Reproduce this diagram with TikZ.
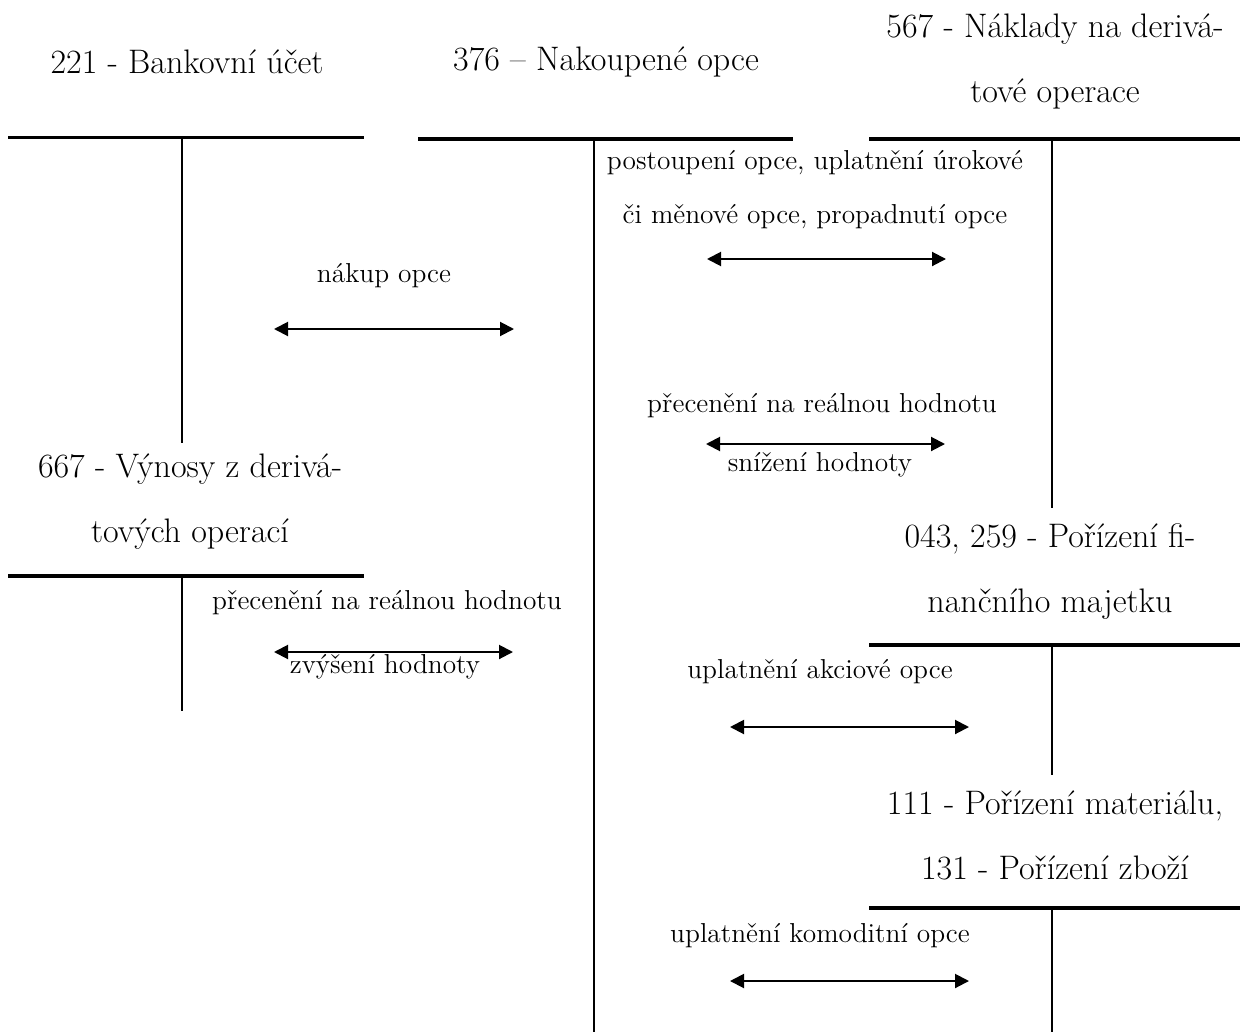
\documentclass[tikz,border=0pt]{standalone}
\usepackage{tikz}
\usetikzlibrary{arrows.meta}

\begin{document}
\begin{tikzpicture}[
  x = 0.5pt, y = -0.5pt,
  ucet/.style = {font=\fontsize{17}{32.5}\selectfont, align=center, inner sep=0pt},
  popis/.style = {font=\fontsize{13.7}{27}\selectfont, align=center, inner sep=0pt},
  osa/.style = {line width=1pt},
  hlava/.style = {line width=2pt},
  sipka/.style = {{Triangle[length=7pt,width=7pt]}-{Triangle[length=7pt,width=7pt]}, line width=1pt},
]
\useasboundingbox (0,0) rectangle (1240,1032);
% nazvy uctu
\node[ucet] (u221) at (187,62) {221 - Bankovní účet};
\node[ucet] (u376) at (606,62) {376 – Nakoupené opce};
\node[ucet] (u567) at (1055,61) {567 - Náklady na derivá-\\tové operace};
\node[ucet] (u667) at (190,502) {667 - Výnosy z derivá-\\tových operací};
\node[ucet] (u043) at (1050,572) {043, 259 - Pořízení fi-\\nančního majetku};
\node[ucet] (u111) at (1055,835) {111 - Pořízení materiálu,\\131 - Pořízení zboží};
% body T-uctu
\coordinate (h221a) at (8,138);   \coordinate (h221b) at (364,138);
\coordinate (v221a) at (182,138); \coordinate (v221b) at (182,443);
\coordinate (h376a) at (418,139); \coordinate (h376b) at (793,139);
\coordinate (v376a) at (594,139); \coordinate (v376b) at (594,1032);
\coordinate (h567a) at (869,139); \coordinate (h567b) at (1240,139);
\coordinate (v567a) at (1052,139); \coordinate (v567b) at (1052,508);
\coordinate (h667a) at (8,576);   \coordinate (h667b) at (364,576);
\coordinate (v667a) at (182,576); \coordinate (v667b) at (182,711);
\coordinate (h043a) at (869,645); \coordinate (h043b) at (1240,645);
\coordinate (v043a) at (1052,645); \coordinate (v043b) at (1052,775);
\coordinate (h111a) at (869,908); \coordinate (h111b) at (1240,908);
\coordinate (v111a) at (1052,908); \coordinate (v111b) at (1052,1032);
\draw[hlava, line width=1.5pt] (h221a) -- (h221b); \draw[osa] (v221a) -- (v221b);
\draw[hlava] (h376a) -- (h376b); \draw[osa] (v376a) -- (v376b);
\draw[hlava] (h567a) -- (h567b); \draw[osa] (v567a) -- (v567b);
\draw[hlava] (h667a) -- (h667b); \draw[osa] (v667a) -- (v667b);
\draw[hlava] (h043a) -- (h043b); \draw[osa] (v043a) -- (v043b);
\draw[hlava] (h111a) -- (h111b); \draw[osa] (v111a) -- (v111b);
% popisy operaci
\node[popis] (p1) at (815,190) {postoupení opce, uplatnění úrokové\\či měnové opce, propadnutí opce};
\node[popis] (p2) at (384,276) {nákup opce};
\node[popis] (p3) at (822,406) {přecenění na reálnou hodnotu};
\node[popis] (p3b) at (820,465) {snížení hodnoty};
\node[popis] (p4) at (387,603) {přecenění na reálnou hodnotu};
\node[popis] (p4b) at (385,667) {zvýšení hodnoty};
\node[popis] (p5) at (820,672) {uplatnění akciové opce};
\node[popis] (p6) at (820,936) {uplatnění komoditní opce};
% sipky
\coordinate (s1a) at (707,259); \coordinate (s1b) at (946,259);
\coordinate (s2a) at (274,329); \coordinate (s2b) at (514,329);
\coordinate (s3a) at (706,444); \coordinate (s3b) at (945,444);
\coordinate (s4a) at (274,652); \coordinate (s4b) at (513,652);
\coordinate (s5a) at (730,727); \coordinate (s5b) at (969,727);
\coordinate (s6a) at (730,981); \coordinate (s6b) at (969,981);
\draw[sipka] (s1a) -- (s1b); \draw[sipka] (s2a) -- (s2b); \draw[sipka] (s3a) -- (s3b);
\draw[sipka] (s4a) -- (s4b); \draw[sipka] (s5a) -- (s5b); \draw[sipka] (s6a) -- (s6b);
\end{tikzpicture}
\end{document}
